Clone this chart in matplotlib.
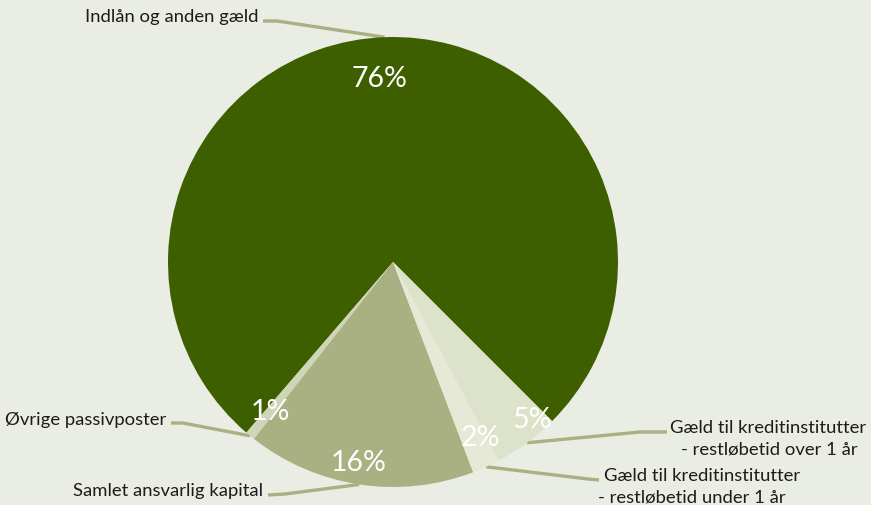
import numpy as np
import matplotlib.pyplot as plt

plt.rcParams['font.family'] = ['Lato', 'DejaVu Sans']

# data
labels = ['Indlån og anden gæld', 'Øvrige passivposter', 'Samlet ansvarlig kapital',
          'Gæld til kreditinstitutter\n- restløbetid under 1 år',
          'Gæld til kreditinstitutter\n- restløbetid over 1 år']
shares = [76.2, 0.7, 16.4, 2.0, 4.7]
colors = ['#3d5f00', '#cfd6b8', '#a9b183', '#e5e9d6', '#dde2ca']

W, H = 871, 506
bg = '#eaede3'
cx, cy, R = 393, H - 263, 225

fig = plt.figure(figsize=(W / 100, H / 100), dpi=100, facecolor=bg)
ax = fig.add_axes([0, 0, 1, 1])
ax.set_facecolor(bg)

wedges, _, pcts = ax.pie(shares, colors=colors, startangle=-45, counterclock=True,
                         radius=R, center=(cx, cy), wedgeprops=dict(linewidth=0),
                         autopct='%.0f%%', pctdistance=0.87,
                         textprops=dict(color='white', fontsize=20.5))

# percent label distance (fraction of radius) per slice
pct_r = [0.82, 0.86, 0.90, 0.87, 0.93]
pct_shift = [2, 0, -1, 2, 5]  # degrees
for w, t, f, s in zip(wedges, pcts, pct_r, pct_shift):
    a = np.deg2rad((w.theta1 + w.theta2) / 2 + s)
    t.set_position((cx + f * R * np.cos(a), cy + f * R * np.sin(a)))

# leader lines: (elbow start, elbow end) in pixels, text anchor, alignment,
# right edge of 2nd line (two-line labels)
line_col = '#a9b183'
txt_col = '#1c1c1c'
layout = [
    ((263, 22), (277, 22), (258, 17), 'right', None),
    ((171, 424), (183, 424), (166, 420), 'right', None),
    ((268, 496), (285, 495), (263, 491), 'right', None),
    ((599, 481), (588, 480), (604, 487), 'left', 786),
    ((667, 433), (640, 433), (670, 439), 'left', 858),
]
for w, lab, (p0, p1, tp, ha, r2) in zip(wedges, labels, layout):
    a = np.deg2rad((w.theta1 + w.theta2) / 2)
    ex, ey = cx + R * np.cos(a), cy + R * np.sin(a)
    ax.plot([p0[0], p1[0], ex], [H - p0[1], H - p1[1], ey], color=line_col,
            lw=2.4, solid_capstyle='butt', zorder=0.5)
    lines = lab.split('\n')
    if len(lines) == 1:
        ax.text(tp[0], H - tp[1], lab, ha=ha, va='center', fontsize=13.3, color=txt_col)
    else:
        ax.text(tp[0], H - tp[1] + 11, lines[0], ha=ha, va='center', fontsize=13.3, color=txt_col)
        ax.text(r2, H - tp[1] - 11, lines[1], ha='right', va='center',
                fontsize=13.3, color=txt_col)

ax.set_xlim(0, W)
ax.set_ylim(0, H)
ax.set_aspect('auto')
ax.axis('off')

plt.savefig('out.png', dpi=100, facecolor=bg)
